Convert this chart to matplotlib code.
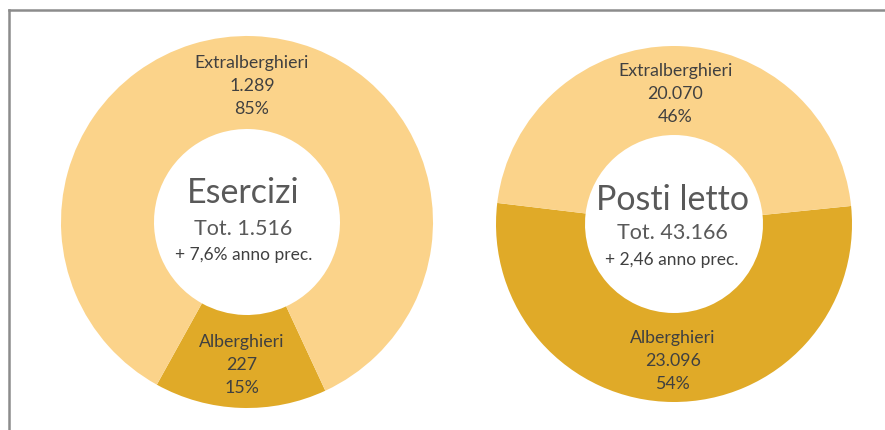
import numpy as np
import matplotlib
matplotlib.use("Agg")
import matplotlib.pyplot as plt
from matplotlib.lines import Line2D

plt.rcParams['font.family'] = ['Lato', 'DejaVu Sans']

categories = ["Alberghieri", "Extralberghieri"]
esercizi_values = [227, 1289]
esercizi_pct = ["15%", "85%"]
esercizi_labels = ["227", "1.289"]
posti_values = [23096, 20070]
posti_pct = ["54%", "46%"]
posti_labels = ["23.096", "20.070"]

titles = ["Esercizi", "Posti letto"]
totals = ["Tot. 1.516", "Tot. 43.166"]
changes = ["+ 7,6% anno prec.", "+ 2,46 anno prec."]

colors = ["#E0AA28", "#FBD38A"]
W, H = 885, 430
fig = plt.figure(figsize=(W / 100, H / 100), dpi=100)
fig.patch.set_facecolor("white")

# frame
fig.add_artist(Line2D([9 / W, 1.0], [1 - 10 / H, 1 - 10 / H], color="#8c8c8c", lw=1.8,
                      transform=fig.transFigure))
fig.add_artist(Line2D([9 / W, 9 / W], [0, 1 - 10 / H], color="#8c8c8c", lw=1.8,
                      transform=fig.transFigure))

specs = [
    dict(cx=247, cy=222, r=186, start=241.0, vals=esercizi_values, nums=esercizi_labels,
         pcts=esercizi_pct, title=titles[0], tot=totals[0], chg=changes[0],
         ty=0.155, toty=-0.035, cy2=-0.18, tx=-0.02),
    dict(cx=674, cy=224, r=178, start=173.2, vals=posti_values, nums=posti_labels,
         pcts=posti_pct, title=titles[1], tot=totals[1], chg=changes[1],
         ty=0.135, toty=-0.05, cy2=-0.205, tx=-0.01),
]

for s in specs:
    ax = fig.add_axes([(s["cx"] - s["r"]) / W, (H - s["cy"] - s["r"]) / H,
                       2 * s["r"] / W, 2 * s["r"] / H])
    wedges, _ = ax.pie(s["vals"], colors=colors, startangle=s["start"], counterclock=True,
                       radius=1.0, wedgeprops=dict(width=0.5, linewidth=0, edgecolor="none"))
    ax.set_xlim(-1, 1)
    ax.set_ylim(-1, 1)
    ax.set_aspect("equal")
    ax.axis("off")
    for w, cat, num, pct in zip(wedges, categories, s["nums"], s["pcts"]):
        mid = np.deg2rad((w.theta1 + w.theta2) / 2)
        x, y = 0.75 * np.cos(mid), 0.75 * np.sin(mid) - 0.02
        ax.text(x, y, f"{cat}\n{num}\n{pct}", ha="center", va="center", fontsize=12.8,
                color="#404040", linespacing=1.55)
    ax.text(s["tx"], s["ty"], s["title"], ha="center", va="center", fontsize=24.5,
            color="#595959")
    ax.text(s["tx"], s["toty"], s["tot"], ha="center", va="center", fontsize=15.5,
            color="#595959")
    ax.text(s["tx"], s["cy2"], s["chg"], ha="center", va="center", fontsize=12.5,
            color="#404040")

fig.savefig("out.png", dpi=100, facecolor="white")
